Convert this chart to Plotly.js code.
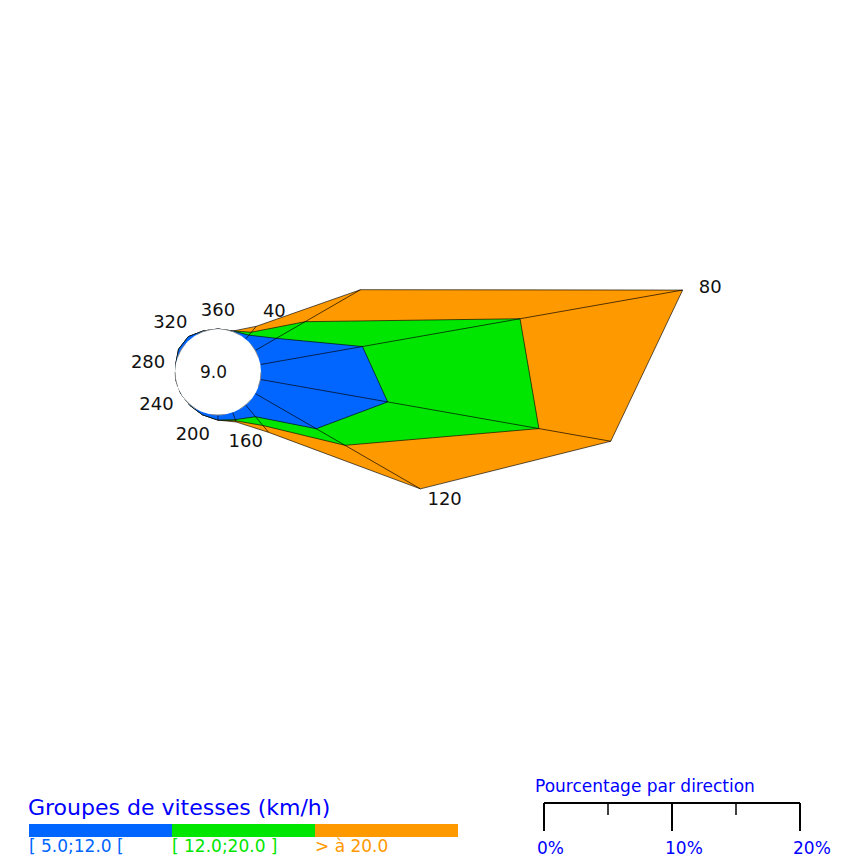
<!DOCTYPE html>
<html><head><meta charset="utf-8">
<script src="https://cdn.plot.ly/plotly-3.0.1.min.js"></script>
<style>html,body{margin:0;padding:0;background:#fff}#chart{width:858px;height:858px}</style>
</head><body><div id="chart"></div>
<script>
// ---- data ----
const directions = [0,20,40,60,80,100,120,140,160,180,200,220,240,260,280,300,320,340];
const speedGroups = ['[ 5.0;12.0 [', '[ 12.0;20.0 ]', '> à 20.0'];
const blueVals   = [0, 0.05, 0.4, 1.9, 8.1, 10.1, 5.5, 1.2, 0.6, 0.4, 0.2, 0.05, 0, 0, 0, 0.2, 0.25, 0.05];
const greenVals  = [0, 0,    0.3, 2.6, 12.5, 12.0, 2.6, 0.9, 0.1, 0,   0,   0,    0, 0, 0, 0,   0,    0];
const orangeVals = [0, 0,    0.6, 5.0, 12.9, 5.7,  6.8, 0.7, 0.1, 0,   0,   0,    0, 0, 0, 0,   0,    0];
const calmPct = 9.0;
const labelDirections = [360,40,80,120,160,200,240,280,320];
const scaleTicks = [0,5,10,15,20];
const scaleLabelVals = [0,10,20];
const legendTitle = 'Groupes de vitesses (km/h)';
const scaleTitle = 'Pourcentage par direction';

// ---- layout constants ----
const W = 858, H = 858, PXPU = 12.8;     // pixels per percent
const HOLE = 43 / PXPU;                  // calm circle radius in % units
const CX = 218, CY = 372;                // centre of the rose in pixels
const colors = ['#0066ff', '#00e600', '#ff9900'];
const textBlue = '#0000ff';
const FONT = 'DejaVu Sans, Verdana, sans-serif';
const toUx = px => (px - CX) / PXPU;
const toUy = py => (CY - py) / PXPU;

const cumBlue = blueVals.slice();
const cumGreen = blueVals.map((v, i) => v + greenVals[i]);
const cumTotal = cumGreen.map((v, i) => v + orangeVals[i]);

function polar(r, deg) {
  const a = deg * Math.PI / 180;
  return [r * Math.sin(a), r * Math.cos(a)];
}
function ringTrace(cumVals, color) {
  const xs = [], ys = [];
  directions.forEach((d, i) => {
    const p = polar(HOLE + cumVals[i], d);
    xs.push(p[0]); ys.push(p[1]);
  });
  xs.push(xs[0]); ys.push(ys[0]);
  return {type: 'scatter', mode: 'lines', x: xs, y: ys, fill: 'toself', fillcolor: color,
          line: {color: 'rgba(0,0,0,0.8)', width: 0.8}, hoverinfo: 'skip', showlegend: false};
}

const traces = [
  ringTrace(cumTotal, colors[2]),
  ringTrace(cumGreen, colors[1]),
  ringTrace(cumBlue, colors[0])
];

// radial lines
const rx = [], ry = [];
directions.forEach((d, i) => {
  if (cumTotal[i] > 0.3) {
    const a = polar(HOLE, d), b = polar(HOLE + cumTotal[i], d);
    rx.push(a[0], b[0], null); ry.push(a[1], b[1], null);
  }
});
traces.push({type: 'scatter', mode: 'lines', x: rx, y: ry,
  line: {color: 'rgba(0,0,0,0.85)', width: 0.8}, hoverinfo: 'skip', showlegend: false});

// direction labels: placed just outside the outer ring, on an elliptical offset
const lx = [], ly = [];
labelDirections.forEach(ld => {
  const d = ld % 360;
  const i = directions.indexOf(d);
  const a = d * Math.PI / 180;
  const p = polar(HOLE + cumTotal[i], d);
  lx.push(p[0] + 28 * Math.sin(a) / PXPU);
  ly.push(p[1] + (20 * Math.cos(a) - 2) / PXPU);
});
traces.push({type: 'scatter', mode: 'text', x: lx, y: ly, text: labelDirections.map(String),
  textposition: 'middle center', textfont: {family: FONT, size: 18, color: '#111'},
  hoverinfo: 'skip', showlegend: false, cliponaxis: false});

// ---- shapes & annotations ----
const shapes = [];
const annotations = [];
// calm circle
shapes.push({type: 'circle', xref: 'x', yref: 'y', x0: -HOLE, x1: HOLE, y0: -HOLE, y1: HOLE,
  fillcolor: '#ffffff', line: {color: '#888888', width: 0.9, dash: 'longdash'}, layer: 'above'});
annotations.push({x: 0, y: 0, xref: 'x', yref: 'y', text: calmPct.toFixed(1), showarrow: false,
  xshift: -5, font: {family: FONT, size: 17, color: '#111'}});

// percentage scale bar (same scale as the rose)
const scaleX0 = toUx(544);
const barY = toUy(803), majY = toUy(831), minY = toUy(815);
shapes.push({type: 'line', xref: 'x', yref: 'y', x0: scaleX0 + scaleTicks[0], x1: scaleX0 + scaleTicks[scaleTicks.length - 1],
  y0: barY, y1: barY, line: {color: '#000', width: 2}});
scaleTicks.forEach(t => {
  const major = scaleLabelVals.indexOf(t) >= 0;
  shapes.push({type: 'line', xref: 'x', yref: 'y', x0: scaleX0 + t, x1: scaleX0 + t,
    y0: barY, y1: major ? majY : minY, line: {color: '#000', width: major ? 2 : 1.5}});
});
scaleLabelVals.forEach(t => {
  annotations.push({x: scaleX0 + t, y: toUy(848), xref: 'x', yref: 'y', text: t + '%', showarrow: false,
    xanchor: 'left', xshift: -9, yanchor: 'middle', font: {family: FONT, size: 17, color: textBlue}});
});
annotations.push({x: toUx(535), y: toUy(786), xref: 'x', yref: 'y', text: scaleTitle, showarrow: false,
  xanchor: 'left', yanchor: 'middle', xshift: -2, font: {family: FONT, size: 17, color: textBlue}});

// speed group legend
annotations.push({x: toUx(28), y: toUy(807), xref: 'x', yref: 'y', text: legendTitle, showarrow: false,
  xanchor: 'left', yanchor: 'middle', xshift: -2, font: {family: FONT, size: 22, color: textBlue}});
const legX0 = 29, legW = 143;
speedGroups.forEach((g, k) => {
  shapes.push({type: 'rect', xref: 'x', yref: 'y', x0: toUx(legX0 + k * legW), x1: toUx(legX0 + (k + 1) * legW),
    y0: toUy(837), y1: toUy(824), fillcolor: colors[k], line: {width: 0}});
  annotations.push({x: toUx(legX0 + k * legW), y: toUy(846), xref: 'x', yref: 'y', text: g, showarrow: false,
    xanchor: 'left', yanchor: 'middle', xshift: -2, font: {family: FONT, size: 17, color: colors[k]}});
});

const layout = {
  width: W, height: H,
  margin: {l: 0, r: 0, t: 0, b: 0},
  paper_bgcolor: '#fff', plot_bgcolor: '#fff',
  xaxis: {range: [toUx(0), toUx(W)], visible: false, fixedrange: true},
  yaxis: {range: [toUy(H), toUy(0)], visible: false, fixedrange: true},
  shapes: shapes, annotations: annotations, showlegend: false
};
Plotly.newPlot('chart', traces, layout, {displayModeBar: false, staticPlot: true});
</script></body></html>
